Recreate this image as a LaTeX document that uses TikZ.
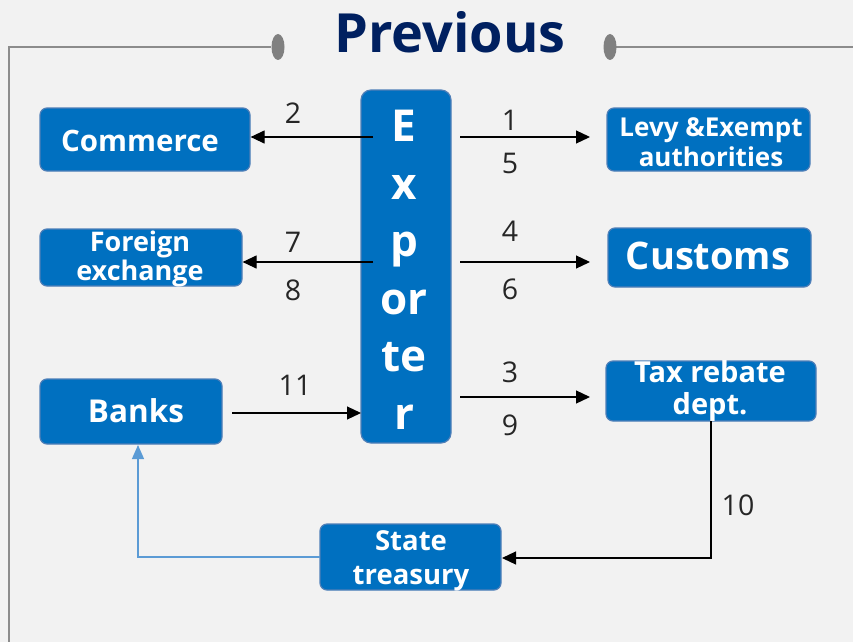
\documentclass[tikz,border=0pt]{standalone}
\usepackage{fontspec}
\setmainfont{Open Sans}
\usetikzlibrary{arrows.meta}
\definecolor{bg}{HTML}{F2F2F2}
\definecolor{boxblue}{HTML}{0070C0}
\definecolor{boxedge}{HTML}{4F7FB8}
\definecolor{navy}{HTML}{002060}
\definecolor{lblue}{HTML}{5B9BD5}
\definecolor{numc}{HTML}{262626}
\definecolor{framec}{HTML}{8C8C8C}
\definecolor{dotc}{HTML}{808080}
\begin{document}
\begin{tikzpicture}[x=1pt,y=-1pt,
 box/.style={draw=boxedge, line width=1.2pt, fill=boxblue, rounded corners=7pt, inner sep=0pt},
 txt/.style={text=white, font=\bfseries, align=center, inner sep=0pt},
 num/.style={text=numc, font=\fontsize{28.5}{32}\selectfont, inner sep=0pt},
 arr/.style={draw=black, line width=1.2pt, -{Triangle[length=14pt,width=13pt]}},
 barr/.style={draw=lblue, line width=1.2pt, -{Triangle[length=14pt,width=12pt]}},
 frameline/.style={draw=framec, line width=1.5pt},
]
\useasboundingbox[fill=bg] (0,0) rectangle (853,642);
% frame and title
\coordinate (fl) at (271,47);
\coordinate (fc) at (9,47);
\coordinate (fb) at (9,642);
\coordinate (fr) at (616,47);
\coordinate (fe) at (853,47);
\draw[frameline] (fl) -- (fc) -- (fb);
\draw[frameline] (fr) -- (fe);
\fill[dotc] (278,47) ellipse (6.5 and 13);
\fill[dotc] (610,47) ellipse (6.5 and 13);
\node[text=navy, font=\fontsize{54}{60}\selectfont\bfseries, inner sep=0pt] (title) at (450,32) {Previous};

% boxes
\node[box, minimum width=210pt, minimum height=63pt] (com) at (145,139.5) {};
\node[box, minimum width=202pt, minimum height=57pt] (fx) at (141,257.5) {};
\node[box, minimum width=182pt, minimum height=65pt] (bank) at (131,411.5) {};
\node[box, minimum width=90pt, minimum height=353pt, rounded corners=10pt] (exp) at (406,266.5) {};
\node[box, minimum width=203pt, minimum height=63pt] (levy) at (708.5,139.5) {};
\node[box, minimum width=203pt, minimum height=59pt] (cus) at (709.5,257.5) {};
\node[box, minimum width=210pt, minimum height=60pt] (tax) at (711,391) {};
\node[box, minimum width=181pt, minimum height=66pt] (st) at (410.5,557) {};

% texts
\node[txt, font=\fontsize{29.5}{34}\selectfont\bfseries] (comt) at (140,141) {Commerce};
\node[txt, font=\fontsize{27}{29}\selectfont\bfseries] (fxt) at (140,259) {Foreign\\exchange};
\node[txt, font=\fontsize{31.5}{34}\selectfont\bfseries] (bankt) at (136,411) {Banks};
\node[txt, font=\fontsize{44}{57.5}\selectfont\bfseries] (expt) at (404,270) {E\\x\\p\\or\\te\\r};
\node[txt, font=\fontsize{26}{30}\selectfont\bfseries] (levyt) at (711,142) {Levy \&Exempt\\authorities};
\node[txt, font=\fontsize{38}{40}\selectfont\bfseries] (cust) at (708,256) {Customs};
\node[txt, font=\fontsize{29}{32}\selectfont\bfseries] (taxt) at (710,391) {Tax rebate\\dept.};
\node[txt, font=\fontsize{27.5}{34}\selectfont\bfseries] (stt) at (411,561) {State\\treasury};

% connector end points
\coordinate (c2) at (373,137);
\coordinate (c1) at (460,137);
\coordinate (c7) at (373,262);
\coordinate (c4) at (460,262);
\coordinate (c3) at (460,397);
\coordinate (t1) at (590,137);
\coordinate (t4) at (590,262);
\coordinate (t3) at (590,397);
\coordinate (b11) at (232,413);
\coordinate (e11) at (361,413);
\coordinate (taxb) at (711,421);
\coordinate (corner10) at (711,558);
\coordinate (stR) at (502,558);
\coordinate (stL) at (320,557);
\coordinate (corner12) at (138,557);
\coordinate (bankB) at (138,445);

\draw[arr] (c2) -- (com.east |- c2);
\draw[arr] (c1) -- (t1);
\draw[arr] (c7) -- (fx.east |- c7);
\draw[arr] (c4) -- (t4);
\draw[arr] (c3) -- (t3);
\draw[arr] (b11) -- (e11);
\draw[arr] (taxb) -- (corner10) -- (stR);
\draw[barr] (stL) -- (corner12) -- (bankB);

% numbers
\node[num] (n2) at (293,113) {2};
\node[num] (n1) at (510,120) {1};
\node[num] (n5) at (510,163) {5};
\node[num] (n7) at (293,242) {7};
\node[num] (n8) at (293,290) {8};
\node[num] (n4) at (510,231) {4};
\node[num] (n6) at (510,289) {6};
\node[num] (n11) at (295,385) {11};
\node[num] (n3) at (510,372) {3};
\node[num] (n9) at (510,425) {9};
\node[num] (n10) at (738,505) {10};
\end{tikzpicture}
\end{document}
